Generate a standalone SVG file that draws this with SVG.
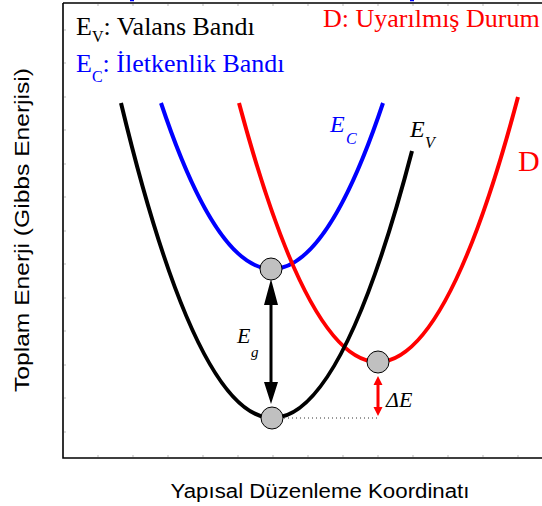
<svg xmlns="http://www.w3.org/2000/svg" width="542" height="506" viewBox="0 0 542 506">
<style>
.curve{fill:none;stroke-width:4;stroke-linecap:butt}
.dot{fill:#c0c0c0;stroke:#000;stroke-width:1}
.serif{font-family:"Liberation Serif","Times New Roman",serif}
.sans{font-family:"Liberation Sans",Arial,sans-serif;fill:#000}
.it{font-style:italic}
.tick{stroke:#bbb;stroke-width:1}
</style>
<rect width="542" height="506" fill="#fff"/>
<g id="frame">
<path d="M63,3 H542 M63,3 V458 H542" fill="none" stroke="#000" stroke-width="1.6"/>
<path class="tick" d="M98,457v-2M133,457v-2M168,457v-2M203,457v-2M238,457v-2M273,457v-2M308,457v-2M343,457v-2M378,457v-2M413,457v-2M448,457v-2M483,457v-2M518,457v-2M98,4v2M133,4v2M168,4v2M203,4v2M238,4v2M273,4v2M308,4v2M343,4v2M378,4v2M413,4v2M448,4v2M483,4v2M518,4v2M64,432h2M64,398h2M64,365h2M64,331h2M64,298h2M64,264h2M64,231h2M64,197h2M64,164h2M64,130h2M64,97h2M64,63h2M64,30h2"/>
<path d="M130,0.5h4M410,0.5h4" stroke="#00f" stroke-width="1.5"/>
</g>
<g id="connectors">
<path id="curve-ec" class="curve" stroke="#0000ff" d="M161,103 Q272,435 383,103"/>
<path id="curve-d" class="curve" stroke="#ff0000" d="M239,103 Q378.5,624 518,97"/>
<path id="curve-ev" class="curve" stroke="#000" d="M121,103 Q266.5,708 412,151"/>
<path id="dotted" d="M272,418 H378" stroke="#333" stroke-width="1" stroke-dasharray="1 3"/>
<g id="arrow-eg">
<path d="M271,300 V386" stroke="#000" stroke-width="3"/>
<path d="M271,279 L278,305 L264,305 Z M271,404 L278,382 L264,382 Z" fill="#000"/>
</g>
<g id="arrow-de">
<path d="M378,382 V410" stroke="#ff0000" stroke-width="3"/>
<path d="M378,376 L382.5,385 L373.5,385 Z M378,416 L382.5,407 L373.5,407 Z" fill="#ff0000"/>
</g>
</g>
<g id="node-ec"><circle class="dot" cx="271" cy="269" r="11"/></g>
<g id="node-ev"><circle class="dot" cx="272" cy="418" r="11"/></g>
<g id="node-d"><circle class="dot" cx="378" cy="362" r="11"/></g>
<g id="labels">
<text class="serif it" x="237" y="343" font-size="22">E</text>
<text class="serif it" x="251" y="357" font-size="15">g</text>
<text class="serif it" x="386" y="407" font-size="22">ΔE</text>
<text class="serif it" x="330" y="132" font-size="24" fill="#0000ff">E</text>
<text class="serif it" x="346" y="144" font-size="16" fill="#0000ff">C</text>
<text class="serif it" x="410" y="137" font-size="24">E</text>
<text class="serif it" x="425" y="148" font-size="16">V</text>
<text class="serif" x="518" y="171" font-size="30" fill="#ff0000">D</text>
<text class="serif" x="323" y="27" font-size="26" fill="#ff0000">D: Uyarılmış Durum</text>
<text class="serif" x="76" y="35" font-size="26">E<tspan font-size="16" dy="7">V</tspan><tspan dy="-7">: Valans Bandı</tspan></text>
<text class="serif" x="76" y="72" font-size="26" fill="#0000ff">E<tspan font-size="16" dy="10">C</tspan><tspan dy="-10">: İletkenlik Bandı</tspan></text>
<text class="sans" x="320" y="498" font-size="19.5" text-anchor="middle" textLength="299" lengthAdjust="spacingAndGlyphs">Yapısal Düzenleme Koordinatı</text>
<text class="sans" transform="translate(29,230) rotate(-90)" font-size="20" text-anchor="middle" textLength="324" lengthAdjust="spacingAndGlyphs">Toplam Enerji (Gibbs Enerjisi)</text>
</g>
</svg>
